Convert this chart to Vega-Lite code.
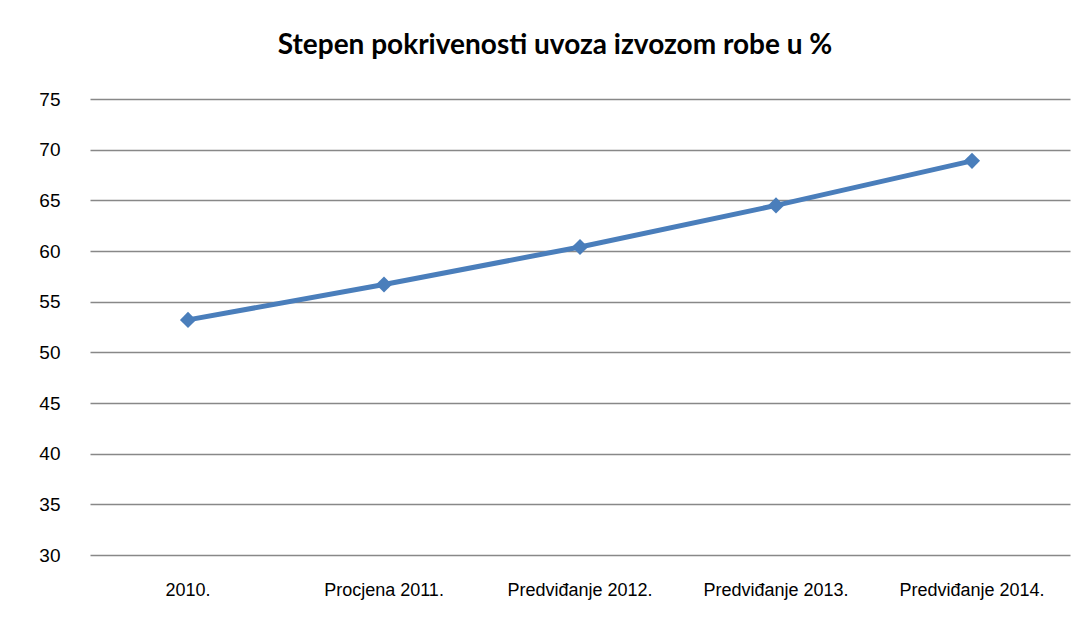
{
  "$schema": "https://vega.github.io/schema/vega-lite/v6.json",
  "width": 980,
  "height": 456,
  "autosize": {"type": "none"},
  "padding": {"left": 90, "top": 99, "right": 15, "bottom": 62},
  "background": "white",
  "title": {
    "text": "Stepen pokrivenosti uvoza izvozom robe u %",
    "font": "Lato",
    "fontSize": 28,
    "fontWeight": "bold",
    "color": "#000000",
    "anchor": "middle",
    "dx": -25,
    "offset": 30
  },
  "data": {
    "values": [
      {"period": "2010.", "value": 53.2},
      {"period": "Procjena 2011.", "value": 56.7},
      {"period": "Predviđanje 2012.", "value": 60.4},
      {"period": "Predviđanje 2013.", "value": 64.5},
      {"period": "Predviđanje 2014.", "value": 68.9}
    ]
  },
  "config": {"view": {"stroke": null}},
  "encoding": {
    "x": {
      "field": "period",
      "type": "nominal",
      "sort": null,
      "scale": {"type": "band", "paddingInner": 0, "paddingOuter": 0},
      "axis": {
        "title": null,
        "labelAngle": 0,
        "labelFont": "Liberation Sans",
        "labelFontSize": 18,
        "labelColor": "#000000",
        "labelPadding": 26,
        "ticks": false,
        "domain": false,
        "grid": false
      }
    },
    "y": {
      "field": "value",
      "type": "quantitative",
      "scale": {"domain": [30, 75], "nice": false, "zero": false},
      "axis": {
        "title": null,
        "values": [30, 35, 40, 45, 50, 55, 60, 65, 70, 75],
        "labelFont": "Liberation Sans",
        "labelFontSize": 19,
        "labelColor": "#000000",
        "labelPadding": 30,
        "ticks": false,
        "domain": false,
        "grid": true,
        "gridColor": "#888888",
        "gridWidth": 1.5
      }
    }
  },
  "layer": [
    {"mark": {"type": "line", "color": "#4a7ebb", "strokeWidth": 5}},
    {"mark": {"type": "point", "shape": "diamond", "filled": true, "opacity": 1, "color": "#4a7ebb", "size": 260}}
  ]
}
